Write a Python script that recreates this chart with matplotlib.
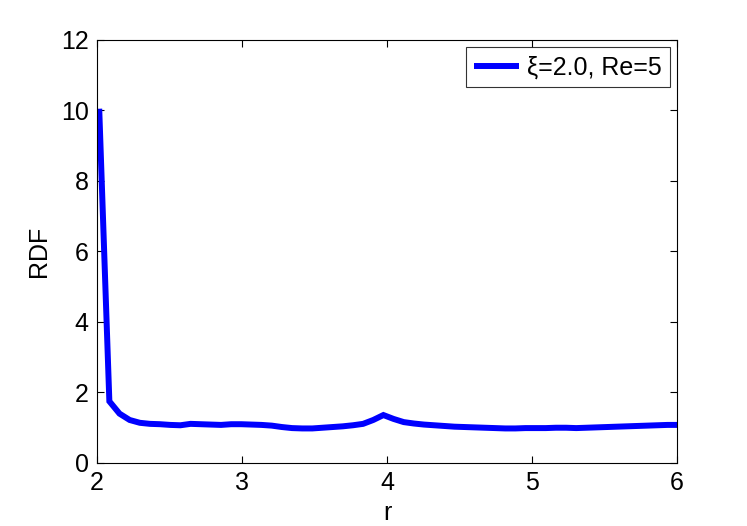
import matplotlib.pyplot as plt

plt.rcParams["font.family"] = ["Liberation Sans", "DejaVu Sans"]

# radial distance and radial distribution function values
r_values = [2.015, 2.085, 2.155, 2.225, 2.295, 2.365, 2.435, 2.505, 2.575, 2.645,
            2.715, 2.785, 2.855, 2.925, 2.995, 3.065, 3.135, 3.205, 3.275, 3.345,
            3.415, 3.485, 3.555, 3.625, 3.695, 3.765, 3.835, 3.905, 3.975, 4.045,
            4.115, 4.185, 4.255, 4.325, 4.395, 4.465, 4.535, 4.605, 4.675, 4.745,
            4.815, 4.885, 4.955, 5.025, 5.095, 5.165, 5.235, 5.305, 5.375, 5.445,
            5.515, 5.585, 5.655, 5.725, 5.795, 5.865, 5.935, 6.005]
rdf_values = [10.05, 1.75, 1.40, 1.22, 1.14, 1.11, 1.10, 1.08, 1.07, 1.11,
              1.10, 1.09, 1.08, 1.10, 1.10, 1.09, 1.08, 1.06, 1.02, 0.99,
              0.98, 0.98, 1.00, 1.02, 1.04, 1.07, 1.11, 1.22, 1.36, 1.25,
              1.16, 1.12, 1.09, 1.07, 1.05, 1.03, 1.02, 1.01, 1.00, 0.99,
              0.98, 0.98, 0.99, 0.99, 0.99, 1.00, 1.00, 0.99, 1.00, 1.01,
              1.02, 1.03, 1.04, 1.05, 1.06, 1.07, 1.08, 1.08]
series_label = "ξ=2.0, Re=5"
x_ticks = [2, 3, 4, 5, 6]
y_ticks = [0, 2, 4, 6, 8, 10, 12]


def main():
    fig = plt.figure(figsize=(7.47, 5.26), dpi=100)
    ax = fig.add_axes([0.1299, 0.1198, 0.7764, 0.8042])

    ax.plot(r_values, rdf_values, color="#0000FF", linewidth=4.3,
            label=series_label, solid_joinstyle="miter", solid_capstyle="butt")

    ax.set_xlim(2, 6)
    ax.set_ylim(0, 12)
    ax.set_xticks(x_ticks)
    ax.set_yticks(y_ticks)
    ax.tick_params(direction="in", length=5, width=0.8, labelsize=18,
                   top=True, right=True, pad=6)
    for spine in ax.spines.values():
        spine.set_linewidth(0.8)

    ax.set_xlabel("r", fontsize=18, labelpad=4)
    ax.set_ylabel("RDF", fontsize=18, labelpad=7)

    leg = ax.legend(loc="upper right", fontsize=18, frameon=True, fancybox=False,
                    handlelength=1.8, handletextpad=0.3, borderpad=0.32,
                    borderaxespad=0.3)
    leg.get_frame().set_edgecolor("black")
    leg.get_frame().set_linewidth(0.8)

    fig.savefig("out.png", dpi=100)


if __name__ == "__main__":
    main()
